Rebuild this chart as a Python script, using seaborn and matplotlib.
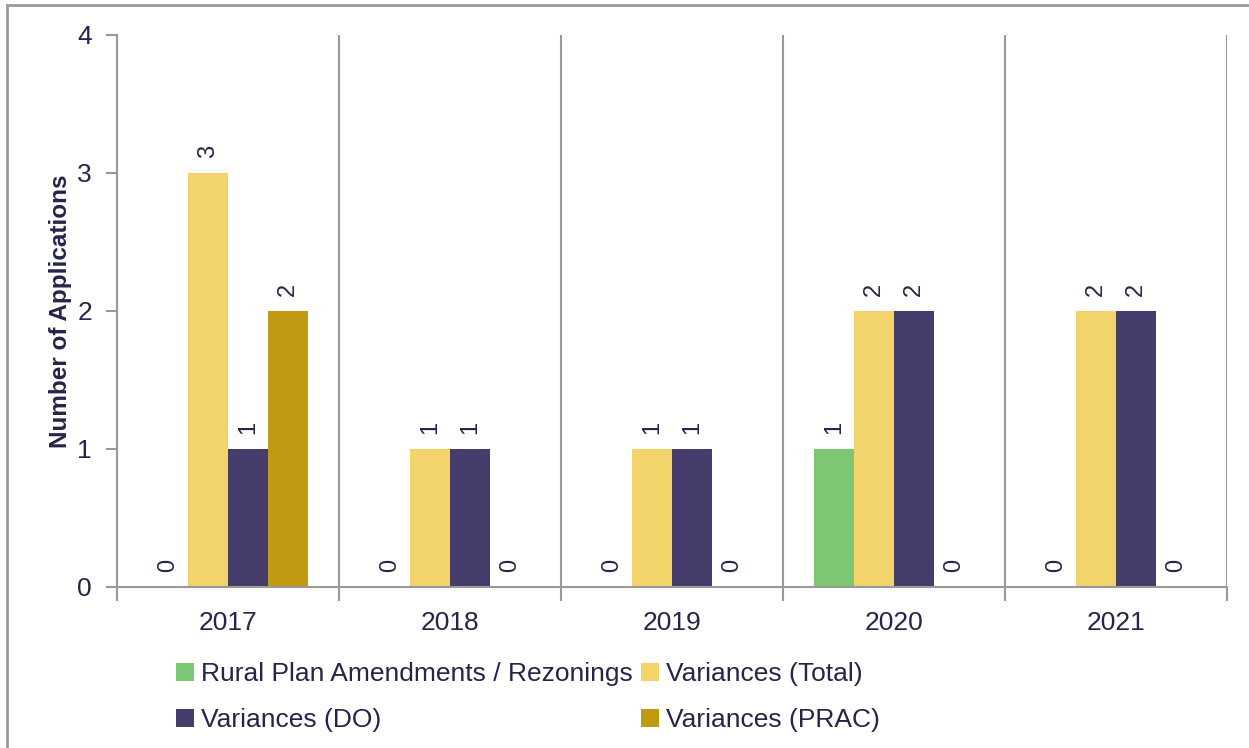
import matplotlib
matplotlib.use("Agg")
import matplotlib.pyplot as plt
from matplotlib.patches import Rectangle
import seaborn as sns
import pandas as pd

years = ["2017", "2018", "2019", "2020", "2021"]
series = ["Rural Plan Amendments / Rezonings", "Variances (Total)",
          "Variances (DO)", "Variances (PRAC)"]
rural = [0, 0, 0, 1, 0]
var_total = [3, 1, 1, 2, 2]
var_do = [1, 1, 1, 2, 2]
var_prac = [2, 0, 0, 0, 0]
colors = ["#7DC673", "#F2D46B", "#463C6B", "#C09A10"]

text_color = "#26244A"
line_color = "#999999"

rows = []
for s, vals in zip(series, [rural, var_total, var_do, var_prac]):
    for y, v in zip(years, vals):
        rows.append({"Year": y, "Series": s, "Count": v})
df = pd.DataFrame(rows)

sns.set_theme(style="white")
plt.rcParams["font.family"] = ["Liberation Sans", "DejaVu Sans"]

fig = plt.figure(figsize=(12.49, 7.48), dpi=100)
ax = fig.add_axes([117 / 1249, 1 - 587 / 748, 1110 / 1249, 552 / 748])

sns.barplot(data=df, x="Year", y="Count", hue="Series", order=years,
            hue_order=series, palette=colors, width=0.72, gap=0,
            saturation=1, errorbar=None, ax=ax, linewidth=0)

for cont in ax.containers:
    ax.bar_label(cont, labels=[f"{int(b.get_height())}" for b in cont],
                 rotation=90, padding=11, fontsize=17, color=text_color)

ax.set_xlim(-0.5, 4.5)
ax.set_ylim(0, 4)
ax.set_yticks([0, 1, 2, 3, 4])
ax.set_xlabel("")
ax.set_ylabel("Number of Applications", fontsize=17.5, fontweight="bold",
              color=text_color, labelpad=4)

# category separators
ax.set_xticks([i - 0.5 for i in range(6)], minor=True)
ax.grid(False)
ax.grid(True, which="minor", axis="x", color=line_color, linewidth=1.5)
ax.tick_params(axis="x", which="major", length=0, pad=17, labelsize=19,
               labelcolor=text_color)
ax.tick_params(axis="x", which="minor", length=10, width=1.5, color=line_color,
               bottom=True, direction="out")
ax.tick_params(axis="y", length=8, width=1.5, color=line_color, left=True,
               direction="out", labelsize=19, labelcolor=text_color, pad=10)

for side in ["top", "right"]:
    ax.spines[side].set_visible(False)
for side in ["left", "bottom"]:
    ax.spines[side].set_color(line_color)
    ax.spines[side].set_linewidth(1.5)

handles, labels = ax.get_legend_handles_labels()
ax.get_legend().remove()
# column-major fill: Rural / DO in the first column, Total / PRAC in the second
order = [0, 2, 1, 3]
fig.legend([handles[i] for i in order], [labels[i] for i in order], ncol=2,
           loc="upper left", bbox_to_anchor=(176 / 1249, 1 - 662 / 748),
           frameon=False, fontsize=19, labelcolor=text_color,
           handlelength=0.7, handleheight=0.7, handletextpad=0.25,
           columnspacing=0.3, labelspacing=0.85, borderpad=0,
           borderaxespad=0)

# outer chart frame
fig.patches.append(Rectangle((7 / 1249, -0.1), 1.2, 1 - 5 / 748 + 0.1,
                             transform=fig.transFigure, fill=False,
                             edgecolor=line_color, linewidth=2))

fig.savefig("out.png", dpi=100)
